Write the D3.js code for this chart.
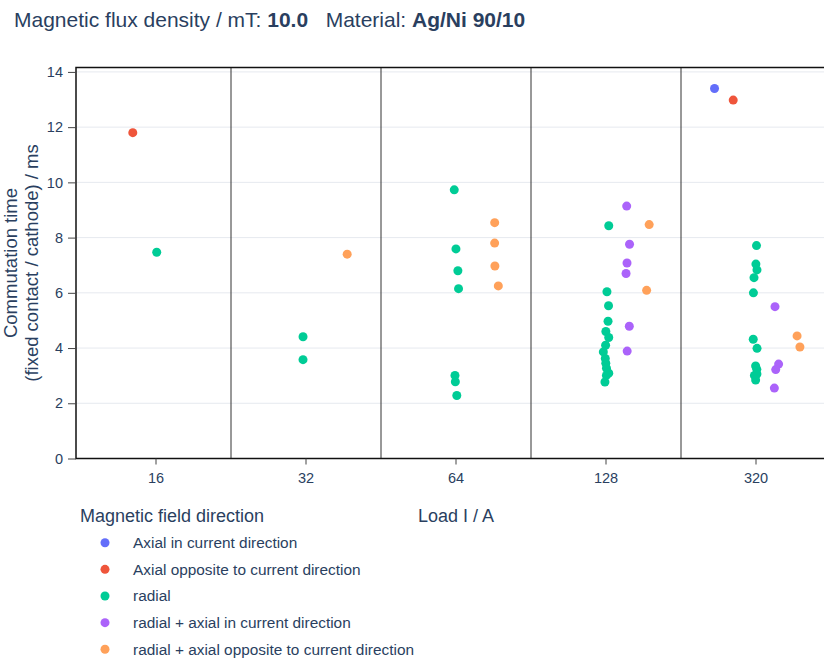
<!DOCTYPE html>
<html>
<head>
<meta charset="utf-8">
<script src="https://cdn.jsdelivr.net/npm/d3@7"></script>
<style>
    body { margin: 0; background: white; overflow: hidden; }
    svg { font-family: 'Liberation Sans', Arial, sans-serif; }
    text { fill: #2a3f5f; }
</style>
</head>
<body>
<div id="chart"></div>
<script>
// DATA
const loads = ['16', '32', '64', '128', '320'];
const directions = [
    'Axial in current direction',
    'Axial opposite to current direction',
    'radial',
    'radial + axial in current direction',
    'radial + axial opposite to current direction'
];
const colors = ['#636efa', '#ef553b', '#00cc96', '#ab63fa', '#ffa15a'];
const yTicks = [0, 2, 4, 6, 8, 10, 12, 14];

// COMMUTATION TIME PER LOAD (ms), ONE ARRAY PER FIELD DIRECTION
const axialIn = [[], [], [], [], [13.40]];
const axialOpp = [[11.80], [], [], [], [12.98]];
const radial = [
    [7.47],
    [4.41, 3.58],
    [9.73, 7.59, 6.80, 6.15, 3.01, 2.78, 2.28],
    [8.43, 6.04, 5.53, 4.97, 4.60, 4.38, 4.10, 3.86, 3.62, 3.45, 3.27, 3.09, 3.01, 2.77],
    [7.71, 7.04, 6.83, 6.55, 6.00, 4.32, 3.99, 3.35, 3.23, 3.06, 3.01, 2.84]
];
const radialAxialIn = [[], [], [], [9.14, 7.76, 7.08, 6.70, 4.79, 3.89], [5.50, 3.42, 3.22, 2.55]];
const radialAxialOpp = [[], [7.40], [8.54, 7.80, 6.97, 6.25], [8.47, 6.09], [4.44, 4.04]];
const series = [axialIn, axialOpp, radial, radialAxialIn, radialAxialOpp];

// DIMENSIONS
width = 824;
height = 659;
plotLeft = 76;
plotRight = 836;
plotTop = 67.5;
plotBottom = 458.5;

// FLATTEN POINTS
jitter = d3.randomUniform.source(d3.randomLcg(0.37))(-3, 3);
points = [];
series.forEach((s, i) => {
    s.forEach((vals, j) => {
        vals.forEach(v => points.push({ load: loads[j], group: i, value: v, jit: jitter() }));
    });
});

// CREATE SVG
svg = d3
    .select('#chart')
    .append('svg')
    .attr('width', width)
    .attr('height', height);

// SCALES
xScale = d3
    .scaleBand()
    .domain(loads)
    .range([plotLeft + 5, plotRight - 5])
    .paddingInner(0);

groupScale = d3
    .scaleBand()
    .domain(d3.range(directions.length))
    .range([-xScale.bandwidth() * 0.345, xScale.bandwidth() * 0.345]);

yScale = d3
    .scaleLinear()
    .domain([0, 14.16])
    .range([plotBottom, plotTop]);

// GRIDLINES
svg
    .append('g')
    .selectAll('line')
    .data(yTicks.filter(d => d > 0))
    .enter()
    .append('line')
    .attr('x1', plotLeft)
    .attr('x2', plotRight)
    .attr('y1', d => yScale(d))
    .attr('y2', d => yScale(d))
    .attr('stroke', '#e6e9ef')
    .attr('stroke-width', 1);

// CATEGORY SEPARATORS
svg
    .append('g')
    .selectAll('line')
    .data(loads.slice(1))
    .enter()
    .append('line')
    .attr('x1', d => xScale(d))
    .attr('x2', d => xScale(d))
    .attr('y1', plotTop)
    .attr('y2', plotBottom)
    .attr('stroke', '#333')
    .attr('stroke-width', 1);

// FRAME
svg
    .append('rect')
    .attr('x', plotLeft)
    .attr('y', plotTop)
    .attr('width', plotRight - plotLeft)
    .attr('height', plotBottom - plotTop)
    .attr('fill', 'none')
    .attr('stroke', '#111')
    .attr('stroke-width', 1.5);

// X AXIS
xAxis = svg
    .append('g')
    .attr('transform', `translate(0,${plotBottom})`)
    .call(d3.axisBottom(xScale).tickSize(6).tickPadding(8));
xAxis.select('.domain').remove();
xAxis.selectAll('line').attr('stroke', '#444');
xAxis.selectAll('text').style('font-size', '14.5px').attr('fill', '#2a3f5f');

// Y AXIS
yAxis = svg
    .append('g')
    .attr('transform', `translate(${plotLeft},0)`)
    .call(d3.axisLeft(yScale).tickValues(yTicks).tickSize(8).tickPadding(5));
yAxis.select('.domain').remove();
yAxis.selectAll('line').attr('stroke', '#444');
yAxis.selectAll('text').style('font-size', '14.5px').attr('fill', '#2a3f5f');

// POINTS
svg
    .append('g')
    .selectAll('circle')
    .data(points)
    .enter()
    .append('circle')
    .attr('r', 4.5)
    .attr('cx', d => xScale(d.load) + xScale.bandwidth() / 2 + groupScale(d.group) + groupScale.bandwidth() / 2 + d.jit)
    .attr('cy', d => yScale(d.value))
    .attr('fill', d => colors[d.group]);

// TITLE
title = svg
    .append('text')
    .attr('x', 14)
    .attr('y', 27)
    .style('font-size', '21px');
title.append('tspan').text('Magnetic flux density / mT: ');
title.append('tspan').text('10.0').style('font-weight', 'bold');
title.append('tspan').text('\u00a0\u00a0\u00a0Material: ');
title.append('tspan').text('Ag/Ni 90/10').style('font-weight', 'bold');

// Y TITLE
yText = svg
    .append('g')
    .attr('transform', `translate(0,${(plotTop + plotBottom) / 2})rotate(-90)`)
    .style('font-size', '18.5px')
    .attr('text-anchor', 'middle');
yText.append('text').text('Commutation time').attr('y', 16.5);
yText.append('text').text('(fixed contact / cathode) / ms').attr('y', 38);

// X TITLE
svg
    .append('text')
    .text('Load I / A')
    .attr('x', (plotLeft + plotRight) / 2)
    .attr('y', 522)
    .attr('text-anchor', 'middle')
    .style('font-size', '18px');

// LEGEND
svg
    .append('text')
    .text('Magnetic field direction')
    .attr('x', 80)
    .attr('y', 522)
    .style('font-size', '18px');

legend = svg
    .append('g')
    .selectAll('g')
    .data(directions)
    .enter()
    .append('g')
    .attr('transform', (d, i) => `translate(0,${542.7 + i * 26.65})`);

legend
    .append('circle')
    .attr('cx', 105)
    .attr('r', 4.5)
    .attr('fill', (d, i) => colors[i]);

legend
    .append('text')
    .text(d => d)
    .attr('x', 133)
    .attr('y', 5.3)
    .style('font-size', '15.4px');
</script>
</body>
</html>
